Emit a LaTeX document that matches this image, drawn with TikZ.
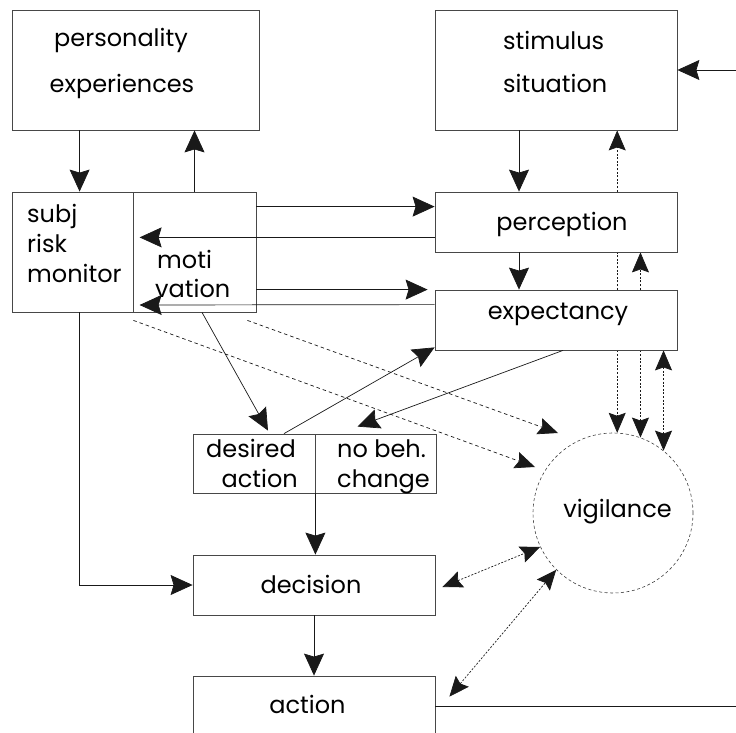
\documentclass[tikz,border=0pt]{standalone}
\usepackage{fontspec}
\setmainfont{Poppins}
\usetikzlibrary{arrows.meta,backgrounds}
\begin{document}
\begin{tikzpicture}[x=1pt,y=-1pt,
  box/.style={draw=black!72, line width=0.8pt, fill=white, inner sep=0pt},
  lbl/.style={inner sep=0pt, font=\fontsize{24}{28}\selectfont},
  conn/.style={draw=black!90, line width=0.7pt},
  tip/.tip={Stealth[length=22pt,width=20pt,inset=3pt]},
  stip/.tip={Stealth[length=20pt,width=17pt,inset=3pt]},
  arr/.style={conn, -tip},
  darr/.style={conn, stip-stip},
  dotl/.style={dash pattern=on 2pt off 1.6pt},
  dashl/.style={dash pattern=on 3.5pt off 3pt},
]
\useasboundingbox (0,0) rectangle (736,733);

% boxes
\node[box, minimum width=247, minimum height=120] (pers) at (135.5,70) {};
\node[box, minimum width=242, minimum height=120] (stim) at (556,70) {};
\node[box, minimum width=121, minimum height=120] (subj) at (72.5,252) {};
\node[box, minimum width=123, minimum height=120] (moti) at (194.5,252) {};
\node[box, minimum width=242, minimum height=60] (perc) at (556,222) {};
\node[box, minimum width=242, minimum height=60] (expc) at (556,320) {};
\node[box, minimum width=122, minimum height=59] (des) at (254,463.5) {};
\node[box, minimum width=121, minimum height=59] (nob) at (375.5,463.5) {};
\node[box, minimum width=242, minimum height=60] (dec) at (314,585) {};
\node[box, minimum width=242, minimum height=60] (act) at (314,706) {};
\node[circle, draw=black!75, line width=0.6pt, dash pattern=on 3pt off 2.5pt,
      minimum size=160, inner sep=0pt] (vig) at (613,513) {};

% labels
\node[lbl, anchor=base] (t1) at (121,47) {personality};
\node[lbl, anchor=base] (t2) at (122,93) {experiences};
\node[lbl, anchor=base west] (t3) at (503,50) {stimulus};
\node[lbl, anchor=base west] (t4) at (503,93) {situation};
\node[lbl, anchor=base west] (t5) at (27,222) {subj};
\node[lbl, anchor=base west] (t6) at (27,252) {risk};
\node[lbl, anchor=base west] (t7) at (27,282) {monitor};
\node[lbl, anchor=base west] (t8) at (157,268) {moti};
\node[lbl, anchor=base west] (t9) at (155,297) {vation};
\node[lbl, anchor=base] (t10) at (562,230) {perception};
\node[lbl, anchor=base] (t11) at (558,319) {expectancy};
\node[lbl, anchor=base east] (t12) at (296,457) {desired};
\node[lbl, anchor=base east] (t13) at (298,487) {action};
\node[lbl, anchor=base west] (t14) at (337,457) {no beh.};
\node[lbl, anchor=base west] (t15) at (337,487) {change};
\node[lbl, anchor=base] (t16) at (617.5,517) {vigilance};
\node[lbl, anchor=base] (t17) at (311,593) {decision};
\node[lbl, anchor=base] (t18) at (307.5,713) {action};

% solid connectors
\draw[arr] ([xshift=68pt]pers.south west) -- ([xshift=68pt]subj.north west);
\draw[arr] (moti.north) -- (moti.north |- pers.south);
\draw[arr] ([yshift=-15pt]moti.north east) -- ([yshift=-15pt]perc.north west);
\draw[arr] ([yshift=15pt]perc.south west) -- ([xshift=7pt,yshift=15pt]moti.south west |- perc.south west);
\draw[arr] (moti.south east |- expc.north west) -- ([xshift=-7pt]expc.north west);
\draw[arr] ([yshift=-15pt]expc.north west) -- ([xshift=7pt]moti.west |- 0,305);
\draw[arr] (stim.south -| 519,0) -- (perc.north -| 519,0);
\draw[arr] (perc.south -| 519,0) -- (expc.north -| 519,0);
\draw[arr] ([xshift=7.5pt]moti.south) -- ([xshift=14pt,yshift=3pt]des.north);
\draw[arr] ([xshift=30pt]des.north) -- ([yshift=3pt]expc.south west);
\draw[arr] ([xshift=7pt]expc.south) -- ([xshift=-18pt,yshift=7pt]nob.north);
\draw[arr] (des.south east) -- (dec.north -| des.south east);
\draw[arr] ([xshift=68pt]subj.south west) -- ([xshift=68pt]subj.south west |- dec.west) -- (dec.west);
\draw[arr] (dec.south) -- (act.north);
\coordinate (loop) at (760,706);
\draw[arr] (act.east) -- (loop) -- (loop |- stim.east) -- (stim.east);

% dashed influences on vigilance
\coordinate (v1) at (535,467);
\coordinate (v2) at (558,433);
\draw[conn, -stip, dashl] ([yshift=-8pt]subj.south east) -- (v1);
\draw[conn, -stip, dashl] ([xshift=-9pt,yshift=-8pt]moti.south east) -- (v2);

% vertical dotted links between vigilance and the right column
\begin{scope}[on background layer]
\draw[conn, -stip, dotl] (vig.87 |- expc.south) -- (vig.87);
\draw[conn, -stip, dotl] (vig.87 |- perc.north) -- (vig.87 |- stim.south);
\draw[conn, dotl] (vig.87 |- expc.north) -- (vig.87 |- perc.south);
\draw[conn, -stip, dotl] (vig.70 |- expc.south) -- (vig.70);
\draw[conn, -stip, dotl] (vig.70 |- expc.north) -- (vig.70 |- perc.south);
\draw[darr, dotl] (vig.51 |- expc.south) -- (vig.51);
\end{scope}

% dotted two-way links to decision and action
\draw[darr, dotl] ([xshift=7pt,yshift=-2pt]dec.east) -- (vig.205);
\draw[darr, dotl] ([xshift=14pt,yshift=-21pt]act.north east) -- (vig.225);
\end{tikzpicture}
\end{document}
